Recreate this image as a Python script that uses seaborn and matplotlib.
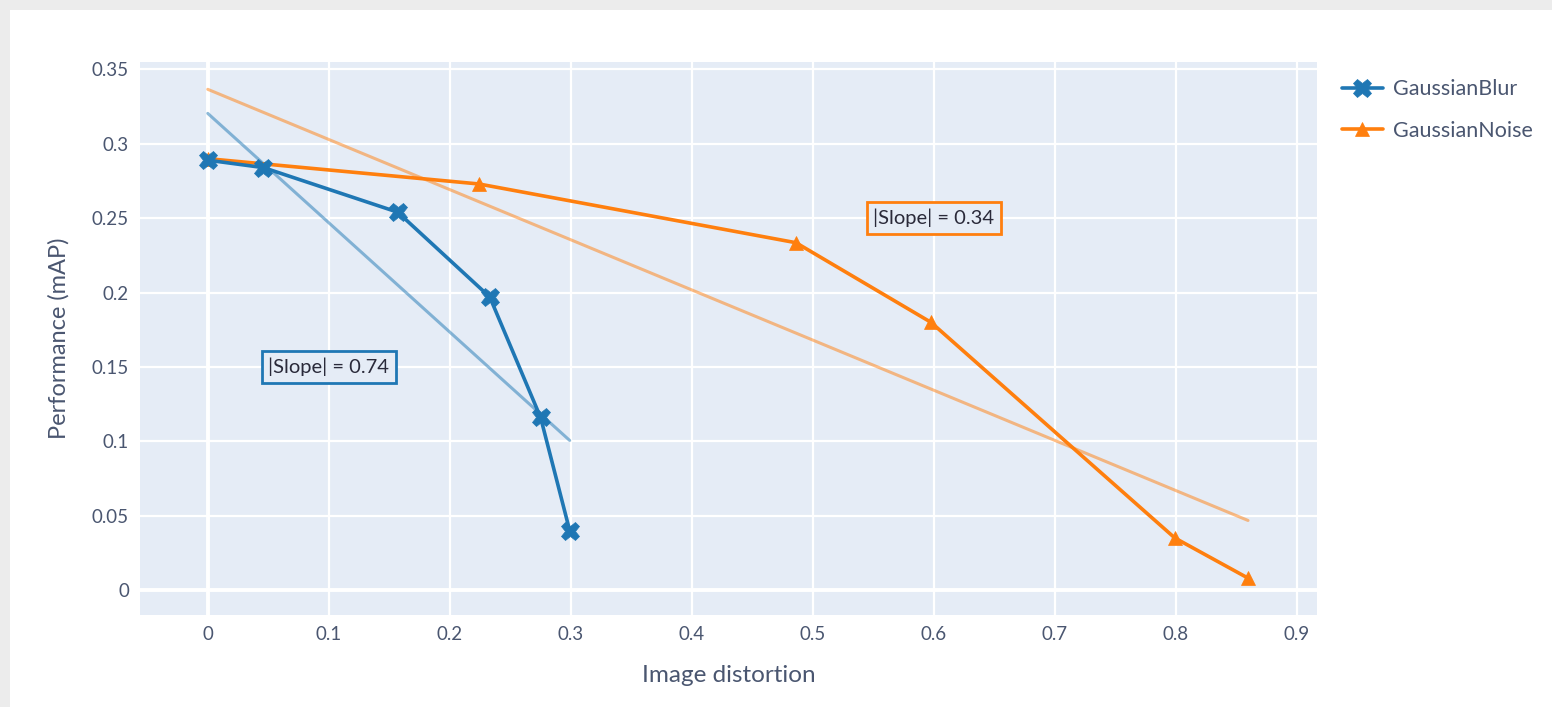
import numpy as np
import pandas as pd
import matplotlib
matplotlib.use('Agg')
import matplotlib.pyplot as plt
from matplotlib.patches import Rectangle
import seaborn as sns

# values
blur_x = [0, 0.046, 0.157, 0.233, 0.275, 0.299]
blur_y = [0.289, 0.284, 0.254, 0.197, 0.116, 0.040]
noise_x = [0, 0.224, 0.486, 0.5975, 0.799, 0.8595]
noise_y = [0.290, 0.273, 0.2335, 0.180, 0.035, 0.008]
series_names = ['GaussianBlur', 'GaussianNoise']
slope_labels = ['|Slope| = 0.74', '|Slope| = 0.34']
slope_label_pos = [(0.1, 0.15), (0.6, 0.25)]
x_ticks = [0, 0.1, 0.2, 0.3, 0.4, 0.5, 0.6, 0.7, 0.8, 0.9]
x_tick_labels = ['0', '0.1', '0.2', '0.3', '0.4', '0.5', '0.6', '0.7', '0.8', '0.9']
y_ticks = [0, 0.05, 0.1, 0.15, 0.2, 0.25, 0.3, 0.35]
y_tick_labels = ['0', '0.05', '0.1', '0.15', '0.2', '0.25', '0.3', '0.35']

blue, orange = '#1f77b4', '#ff7f0e'
txt = '#4a5670'

sns.set_theme(style='darkgrid', rc={'axes.facecolor': '#E5ECF6',
                                    'grid.color': 'white',
                                    'grid.linewidth': 1.6})
plt.rcParams['font.family'] = ['Lato', 'DejaVu Sans']

fig = plt.figure(figsize=(15.52, 7.07), dpi=100, facecolor='#ececec')
fig.patches.append(Rectangle((10 / 1552, 0), 1, 1 - 10 / 707, transform=fig.transFigure,
                             facecolor='white', edgecolor='none', zorder=-5))
ax = fig.add_axes([140 / 1552, 92 / 707, 1177 / 1552, 553 / 707])
ax.set_zorder(2)

blur = pd.DataFrame({'x': blur_x, 'y': blur_y})
noise = pd.DataFrame({'x': noise_x, 'y': noise_y})

# regression lines (faded)
sns.regplot(data=blur, x='x', y='y', scatter=False, ci=None, truncate=True, ax=ax,
            line_kws={'color': blue, 'alpha': 0.5, 'lw': 2.2, 'zorder': 2})
sns.regplot(data=noise, x='x', y='y', scatter=False, ci=None, truncate=True, ax=ax,
            line_kws={'color': orange, 'alpha': 0.5, 'lw': 2.2, 'zorder': 2})

sns.lineplot(data=blur, x='x', y='y', sort=False, color=blue, lw=2.6, marker='X',
             markersize=13, markeredgecolor=blue, markeredgewidth=0.5,
             label=series_names[0], ax=ax, zorder=4)
sns.lineplot(data=noise, x='x', y='y', sort=False, color=orange, lw=2.6, marker='^',
             markersize=10, markeredgecolor=orange, markeredgewidth=0.5,
             label=series_names[1], ax=ax, zorder=3)

# plotly style zero lines
ax.axhline(0, color='white', lw=2.8, zorder=1)
ax.axvline(0, color='white', lw=2.8, zorder=1)

for (lx, ly), lab, col in zip(slope_label_pos, slope_labels, [blue, orange]):
    ax.text(lx, ly, lab, ha='center', va='center', fontsize=14.5, color='#2a2a3a', zorder=6,
            bbox=dict(boxstyle='square,pad=0.32', facecolor='#E5ECF6', edgecolor=col, lw=2))

ax.set_xlim(-0.056, 0.9165)
ax.set_ylim(-0.0168, 0.355)
ax.set_xticks(x_ticks)
ax.set_xticklabels(x_tick_labels)
ax.set_yticks(y_ticks)
ax.set_yticklabels(y_tick_labels)
ax.tick_params(axis='both', labelsize=13.5, labelcolor=txt, length=0, pad=8)
ax.set_xlabel('Image distortion', fontsize=17.5, color=txt, labelpad=16)
ax.set_ylabel('Performance (mAP)', fontsize=17, color=txt, labelpad=16)
for s in ax.spines.values():
    s.set_visible(False)

ax.legend(loc='upper left', bbox_to_anchor=(1333 / 1552, 640 / 707 - 0.005),
          bbox_transform=fig.transFigure, frameon=False, fontsize=15.5,
          labelcolor=txt, handlelength=1.9, handletextpad=0.5, labelspacing=1.0,
          borderaxespad=0)

fig.savefig('out.png', dpi=100, facecolor=fig.get_facecolor())
